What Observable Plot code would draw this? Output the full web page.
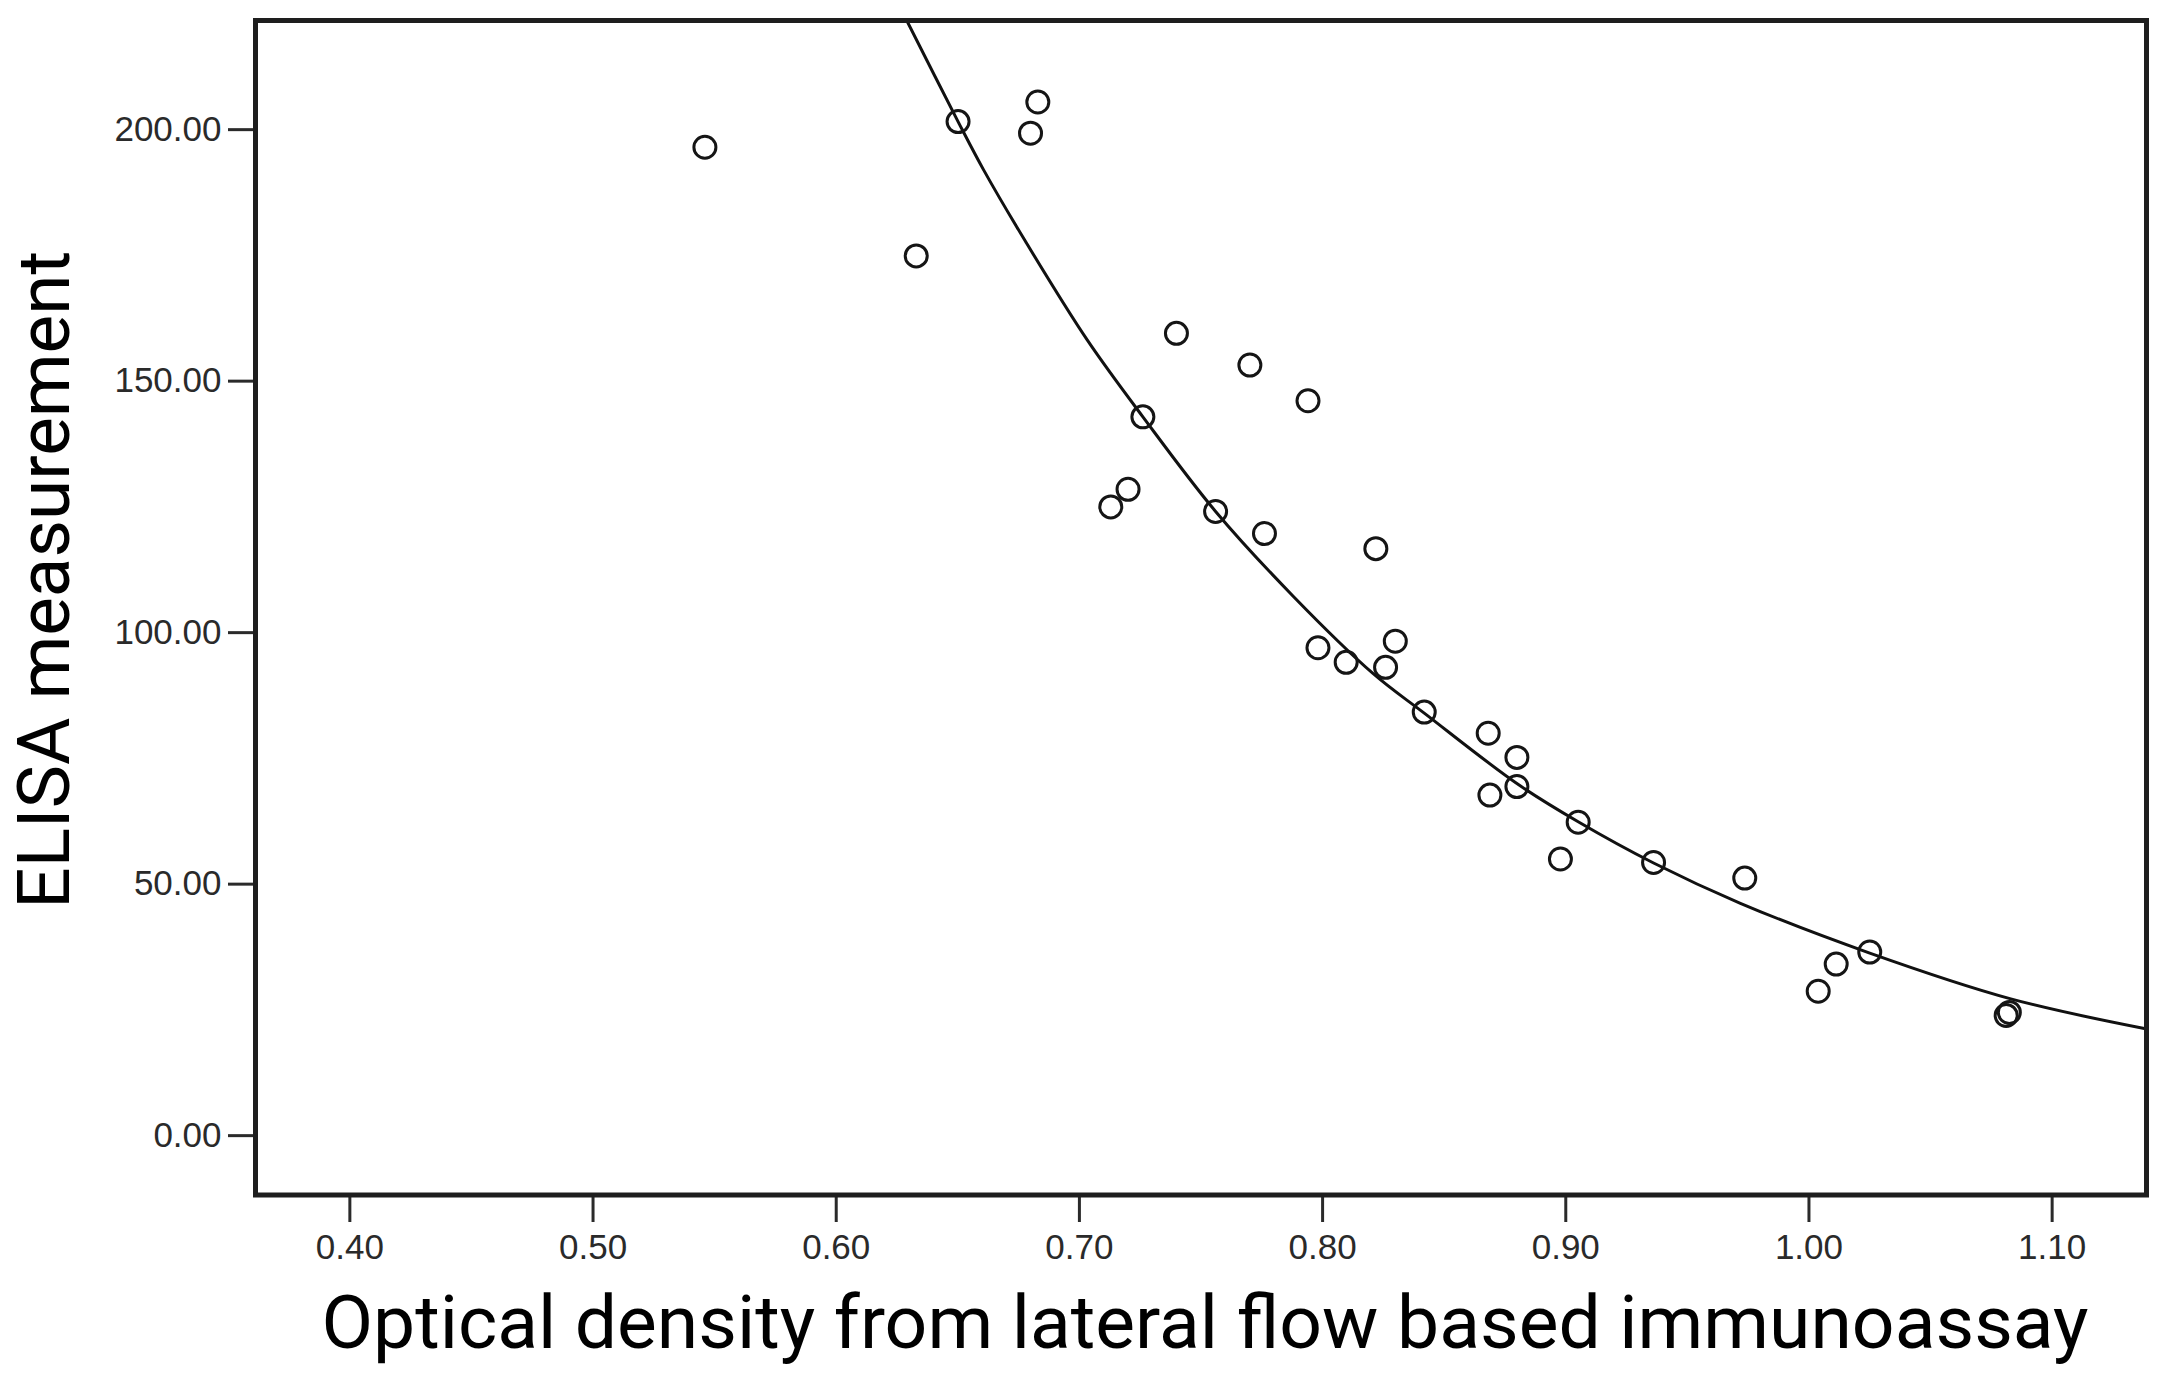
<!DOCTYPE html>
<html>
<head>
<meta charset="utf-8">
<script src="https://cdn.jsdelivr.net/npm/d3@7"></script>
<script src="https://cdn.jsdelivr.net/npm/@observablehq/plot@0.6"></script>
<style>
  html, body { margin: 0; padding: 0; background: #ffffff; }
  #chart svg { display: block; }
</style>
</head>
<body>
<div id="chart"></div>
<script>
// Observed samples: optical density (x) vs ELISA measurement (y)
const odValues = [0.5460, 0.6329, 0.6501, 0.6799, 0.6829, 0.7399, 0.7701, 0.7940,
  0.7261, 0.7129, 0.7200, 0.7560, 0.7761, 0.8219, 0.7981, 0.8097, 0.8259, 0.8299,
  0.8418, 0.8681, 0.8688, 0.8799, 0.8799, 0.9051, 0.8978, 0.9361, 0.9736, 1.0038,
  1.0112, 1.0250, 1.0811, 1.0824];
const elisaValues = [196.5, 174.9, 201.6, 199.3, 205.5, 159.5, 153.2, 146.1,
  142.9, 125.0, 128.5, 124.1, 119.7, 116.7, 97.0, 94.1, 93.1, 98.3,
  84.2, 80.0, 67.7, 75.2, 69.4, 62.3, 55.0, 54.3, 51.2, 28.7,
  34.1, 36.5, 23.9, 24.5];

// Fitted curve
const curveOD    = [0.6290, 0.6501, 0.6606, 0.6778, 0.7032, 0.7261, 0.7560, 0.7880, 0.8207, 0.8418, 0.8799, 0.9051, 0.9361, 0.9718, 1.0250, 1.0830, 1.1379];
const curveElisa = [221.7, 201.6, 192.0, 177.8, 158.2, 142.9, 124.1, 107.2, 91.9, 84.0, 70.0, 62.4, 54.2, 46.2, 36.3, 27.2, 21.3];

const xTicks = [0.40, 0.50, 0.60, 0.70, 0.80, 0.90, 1.00, 1.10];
const yTicks = [0, 50, 100, 150, 200];
const xDomain = [0.3612, 1.1388];
const yDomain = [-11.8, 221.7];
const xTitle = "Optical density from lateral flow based immunoassay";
const yTitle = "ELISA measurement";

const points = odValues.map((x, i) => ({x, y: elisaValues[i]}));
const curve = curveOD.map((x, i) => ({x, y: curveElisa[i]}));
const fmt = d3.format(".2f");
const titleFont = "Roboto, 'Noto Sans', sans-serif";

const chart = Plot.plot({
  width: 2158,
  height: 1378,
  marginLeft: 255,
  marginRight: 12,
  marginTop: 20,
  marginBottom: 183.5,
  style: {background: "#ffffff", color: "#2a2a2a", fontFamily: "'Liberation Sans', Arial, sans-serif"},
  x: {domain: xDomain},
  y: {domain: yDomain},
  marks: [
    Plot.line(curve, {x: "x", y: "y", curve: "catmull-rom", stroke: "#111", strokeWidth: 3, clip: true}),
    Plot.dot(points, {x: "x", y: "y", r: 11, stroke: "#151515", strokeWidth: 3, fill: "none"}),
    Plot.axisX(xTicks, {tickFormat: fmt, tickSize: 27.5, tickPadding: 12, fontSize: 35, strokeWidth: 3, label: null}),
    Plot.axisY(yTicks, {tickFormat: fmt, tickSize: 27, tickPadding: 7, fontSize: 35, strokeWidth: 3, label: null}),
    Plot.frame({stroke: "#1e1e1e", strokeWidth: 5}),
    Plot.text([xTitle], {text: d => d, frameAnchor: "bottom", dx: 4, dy: 152.5, lineAnchor: "bottom", textAnchor: "middle",
      fontSize: 75, fill: "#000", fontFamily: titleFont}),
    Plot.text([yTitle], {text: d => d, frameAnchor: "left", dx: -187, dy: -28, rotate: -90, lineAnchor: "bottom", textAnchor: "middle",
      fontSize: 73, fill: "#000", fontFamily: titleFont})
  ]
});
document.getElementById("chart").appendChild(chart);

// size the titles so that their widths match the original
const targets = {[xTitle]: [1768, 75], [yTitle]: [658, 73]};
d3.select(chart).selectAll("text").each(function() {
  const t = this.textContent;
  if (!(t in targets)) return;
  const [w, fs] = targets[t];
  const len = this.getComputedTextLength();
  if (len > 0) {
    const size = Math.min(fs, fs * w / len);
    this.setAttribute("font-size", size.toFixed(2));
    this.style.fontSize = size.toFixed(2) + "px";
  }
});
</script>
</body>
</html>
